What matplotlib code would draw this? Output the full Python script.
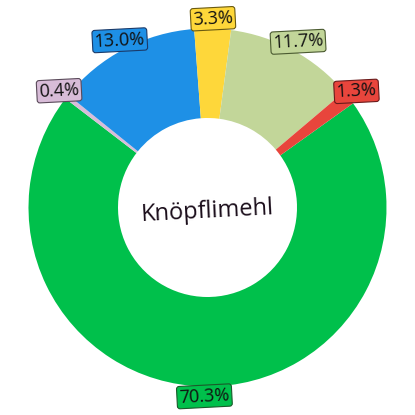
import numpy as np
import matplotlib.pyplot as plt

# ── data ──────────────────────────────────────────────────────────────────────
labels = ["70.3%", "0.4%", "13.0%", "3.3%", "11.7%", "1.3%"]
values = [70.3, 0.4, 13.0, 3.3, 11.7, 1.3]
colours = ["#00c04b", "#d8bcd8", "#1e90e6", "#fed73a", "#c2d699", "#e8453c"]
edge_cols = ["#1a5a2a", "#5a4a5a", "#1a3a6a", "#6a5a10", "#4a5a30", "#6a1a1a"]
centre_text = "Knöpflimehl"

START = 35.6
TILT = 3

fig = plt.figure(figsize=(4.15, 4.15), dpi=100)
ax = fig.add_axes([0, 0, 1, 1])

wedges, _ = ax.pie(values, colors=colours, startangle=START, counterclock=False,
                   radius=1.0, wedgeprops=dict(width=0.5, linewidth=0))

for w, lab, col, ec in zip(wedges, labels, colours, edge_cols):
    mid = np.deg2rad((w.theta1 + w.theta2) / 2)
    x, y = 1.055 * np.cos(mid), 1.055 * np.sin(mid)
    ax.text(x, y, lab, ha="center", va="center", fontsize=13,
            family=["Open Sans", "DejaVu Sans"], color="#111111", rotation=TILT,
            bbox=dict(boxstyle="round,pad=0.12,rounding_size=0.15",
                      facecolor=col, edgecolor=ec, linewidth=0.8))

ax.text(0, -0.02, centre_text, ha="center", va="center", fontsize=17,
        family=["Open Sans", "DejaVu Sans"], color="#1a0d1a", rotation=TILT)

lim = 415 / 358
ax.set_xlim(-lim, lim)
ax.set_ylim(-lim, lim)
ax.set_aspect("equal")
ax.axis("off")

fig.savefig("out.png", dpi=100)
